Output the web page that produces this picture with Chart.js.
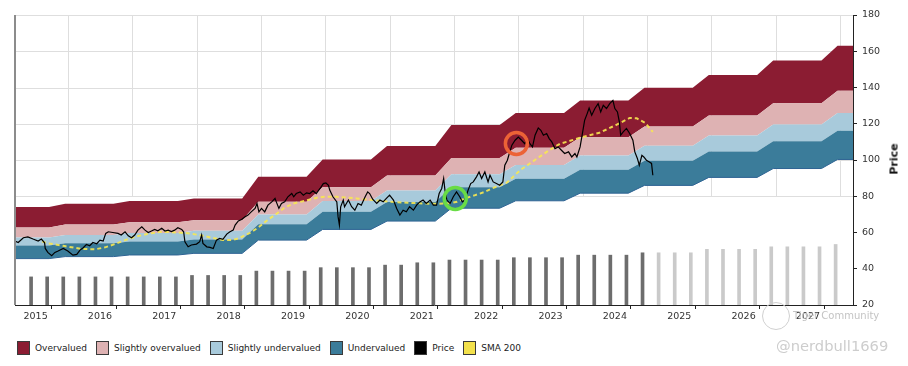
<!DOCTYPE html>
<html>
<head>
<meta charset="utf-8">
<title>Fair value bands</title>
<script src="https://cdn.jsdelivr.net/npm/chart.js"></script>
<style>
  html, body { margin: 0; padding: 0; background: #fff; }
  body { width: 908px; height: 366px; position: relative; overflow: hidden; font-family: 'DejaVu Sans', sans-serif; }
  #chart { position: absolute; left: 0; top: 0; }
  #yTitle { position: absolute; left: 894px; top: 159px; transform: translate(-50%, -50%) rotate(-90deg); font: bold 11px 'DejaVu Sans', sans-serif; color: #111; }
  #legend { position: absolute; left: 17px; top: 341px; display: flex; align-items: center; font-size: 9px; color: #222; }
  .item { display: flex; align-items: center; margin-right: 9px; }
  .sw { width: 11px; height: 12px; border: 1px solid #3a3a3a; margin-right: 5px; box-sizing: content-box; }
  #logo { position: absolute; left: 762px; top: 302px; width: 26px; height: 26px; border: 1px solid #d0d0d0; border-radius: 50%; }
  #tiger { position: absolute; left: 793px; top: 310px; font-size: 10px; color: #c4c4c4; }
  #handle { position: absolute; left: 776px; top: 337px; font-size: 14.7px; color: #cdcdcd; }
</style>
</head>
<body>
<canvas id="chart" width="908" height="330"></canvas>
<div id="yTitle">Price</div>
<div id="logo"></div>
<div id="tiger">Tiger Community</div>
<div id="handle">@nerdbull1669</div>
<div id="legend"></div>
<script>
// valuation band levels per year (lower edge of each zone)
const bandYears = [2015, 2016, 2017, 2018, 2019, 2020, 2021, 2022, 2023, 2024, 2025, 2026, 2027, 2028];
const undervaluedLow  = [45.6, 46.7, 47.6, 48.5, 55.8, 61.7, 66.3, 73.4, 77.5, 81.7, 86.0, 90.4, 95.3, 100.3];
const undervaluedHigh = [52.8, 54.1, 55.1, 56.2, 64.6, 71.4, 76.8, 85.0, 89.7, 94.6, 99.6, 104.7, 110.4, 116.1];
const fairValue       = [57.2, 58.6, 59.7, 60.9, 70.0, 77.4, 83.2, 92.1, 97.3, 102.5, 107.9, 113.5, 119.6, 125.9];
const overvaluedLow   = [62.8, 64.4, 65.6, 66.8, 76.9, 85.0, 91.4, 101.1, 106.8, 112.6, 118.5, 124.6, 131.3, 138.2];
const overvaluedHigh  = [74.1, 75.9, 77.4, 78.8, 90.7, 100.3, 107.7, 119.3, 125.9, 132.8, 139.8, 146.9, 154.9, 163.0];

// quarterly bars (reported, then forecast)
const barStart = 2015.43;
const barsReported = [35.5, 35.5, 35.5, 35.5, 35.5, 35.5, 35.5, 35.5, 35.5, 35.5,
  36.3, 36.3, 36.3, 36.3, 38.7, 38.7, 38.7, 38.7, 40.6, 40.6, 40.6, 40.6,
  42.0, 42.0, 43.3, 43.3, 44.8, 44.8, 44.8, 44.8, 46.1, 46.1, 46.1, 46.1,
  47.5, 47.5, 47.5, 47.5, 48.8];
const barsForecast = [48.8, 48.8, 48.8, 50.7, 50.7, 50.7, 50.7, 52.1, 52.1, 52.1, 52.1, 53.4];

// price [year, value]
const priceHistory = [
  [2015.18, 55.3], [2015.23, 54.5], [2015.31, 57.1], [2015.38, 57.6], [2015.46, 56.4], [2015.54, 55.3],
  [2015.59, 56.4], [2015.64, 54.3], [2015.65, 51.2], [2015.69, 49.0], [2015.75, 47.2], [2015.80, 49.0],
  [2015.85, 49.8], [2015.93, 51.2], [2016.00, 49.8], [2016.08, 47.5], [2016.14, 47.9], [2016.19, 50.3],
  [2016.24, 51.6], [2016.29, 53.4], [2016.34, 52.7], [2016.39, 54.5], [2016.45, 53.8], [2016.50, 55.8],
  [2016.55, 55.3], [2016.59, 59.5], [2016.63, 60.4], [2016.70, 60.0], [2016.78, 59.5], [2016.83, 58.6],
  [2016.89, 60.4], [2016.94, 58.2], [2016.99, 57.1], [2017.04, 58.6], [2017.09, 61.3], [2017.15, 63.1],
  [2017.20, 61.3], [2017.25, 60.0], [2017.30, 60.8], [2017.35, 61.7], [2017.40, 60.9], [2017.46, 62.3],
  [2017.51, 60.8], [2017.56, 61.3], [2017.61, 60.5], [2017.66, 61.3], [2017.71, 62.6], [2017.77, 61.7],
  [2017.80, 60.4], [2017.82, 54.9], [2017.87, 52.1], [2017.92, 53.1], [2018.00, 53.6], [2018.05, 54.9],
  [2018.08, 58.6], [2018.10, 54.0], [2018.16, 52.1], [2018.21, 51.8], [2018.26, 51.2], [2018.31, 55.8],
  [2018.36, 56.7], [2018.41, 56.2], [2018.47, 59.1], [2018.52, 60.4], [2018.57, 61.3], [2018.60, 64.1],
  [2018.65, 66.4], [2018.70, 67.2], [2018.75, 68.6], [2018.80, 69.6], [2018.85, 71.4], [2018.91, 73.3],
  [2018.94, 76.0], [2018.97, 71.4], [2019.01, 73.3], [2019.06, 71.4], [2019.11, 75.1], [2019.17, 76.9],
  [2019.22, 78.8], [2019.24, 76.9], [2019.28, 73.3], [2019.32, 76.0], [2019.37, 76.9], [2019.42, 79.7],
  [2019.48, 81.5], [2019.51, 79.7], [2019.55, 81.5], [2019.61, 82.4], [2019.66, 80.6], [2019.71, 81.9],
  [2019.76, 81.5], [2019.81, 83.0], [2019.86, 81.5], [2019.92, 84.3], [2019.97, 87.0], [2020.01, 87.4],
  [2020.05, 86.0], [2020.07, 83.4], [2020.12, 79.7], [2020.18, 76.9], [2020.20, 68.6], [2020.22, 64.1],
  [2020.24, 74.2], [2020.28, 77.9], [2020.30, 74.2], [2020.36, 77.9], [2020.41, 74.2], [2020.46, 72.3],
  [2020.51, 76.0], [2020.56, 75.1], [2020.62, 79.7], [2020.66, 82.4], [2020.69, 81.5], [2020.74, 78.2],
  [2020.80, 76.0], [2020.85, 77.9], [2020.90, 76.9], [2020.95, 78.8], [2021.00, 80.6], [2021.06, 77.9],
  [2021.11, 73.3], [2021.16, 69.6], [2021.21, 72.3], [2021.26, 71.4], [2021.31, 74.2], [2021.37, 72.3],
  [2021.42, 75.1], [2021.47, 76.9], [2021.52, 77.9], [2021.57, 76.0], [2021.63, 77.9], [2021.68, 75.1],
  [2021.73, 75.1], [2021.77, 81.5], [2021.81, 84.3], [2021.84, 89.8], [2021.86, 83.4], [2021.89, 77.9],
  [2021.94, 76.0], [2021.99, 79.7], [2022.04, 82.4], [2022.09, 79.7], [2022.13, 76.9], [2022.17, 77.9],
  [2022.22, 83.4], [2022.26, 87.0], [2022.30, 87.9], [2022.35, 90.7], [2022.39, 93.4], [2022.43, 89.8],
  [2022.48, 93.4], [2022.53, 87.9], [2022.56, 91.6], [2022.61, 87.9], [2022.66, 87.0], [2022.71, 86.1],
  [2022.76, 87.9], [2022.79, 97.1], [2022.83, 99.9], [2022.86, 103.6], [2022.90, 108.2], [2022.95, 110.9],
  [2023.00, 112.7], [2023.05, 110.9], [2023.10, 109.0], [2023.14, 111.8], [2023.18, 109.0], [2023.22, 107.2],
  [2023.26, 113.7], [2023.31, 117.7], [2023.35, 116.4], [2023.39, 113.7], [2023.44, 114.6], [2023.48, 111.8],
  [2023.52, 110.0], [2023.57, 106.3], [2023.62, 107.2], [2023.67, 105.4], [2023.72, 103.6], [2023.78, 104.5],
  [2023.83, 101.7], [2023.88, 103.6], [2023.91, 101.7], [2023.96, 107.2], [2024.00, 115.5], [2024.03, 121.9],
  [2024.07, 125.6], [2024.10, 128.7], [2024.14, 124.7], [2024.19, 128.4], [2024.24, 131.1], [2024.28, 126.5],
  [2024.32, 130.2], [2024.37, 128.4], [2024.42, 131.1], [2024.47, 132.9], [2024.50, 128.4], [2024.54, 126.5],
  [2024.57, 121.0], [2024.59, 113.7], [2024.63, 115.5], [2024.68, 117.4], [2024.73, 114.6], [2024.78, 110.9],
  [2024.81, 104.5], [2024.85, 100.8], [2024.88, 97.1], [2024.92, 102.6], [2024.95, 101.7], [2024.99, 99.9],
  [2025.03, 99.0], [2025.07, 98.1], [2025.09, 91.6]
];

// 200 day moving average [year, value]
const sma200 = [
  [2015.60, 55.0], [2015.70, 54.0], [2015.95, 52.5], [2016.20, 51.0], [2016.42, 50.7], [2016.58, 51.8],
  [2016.73, 53.6], [2016.89, 55.8], [2017.04, 57.6], [2017.25, 59.3], [2017.46, 60.4], [2017.62, 60.2],
  [2017.90, 59.5], [2018.10, 58.2], [2018.25, 57.0], [2018.41, 55.9], [2018.56, 55.8], [2018.67, 57.0],
  [2018.83, 59.8], [2018.95, 62.5], [2019.09, 66.5], [2019.25, 70.5], [2019.37, 73.8], [2019.51, 76.0],
  [2019.68, 77.5], [2019.87, 79.2], [2019.99, 79.7], [2020.18, 79.7], [2020.49, 78.8], [2020.74, 77.9],
  [2021.03, 76.9], [2021.28, 76.4], [2021.55, 76.0], [2021.73, 75.8], [2021.94, 76.2], [2022.05, 77.0],
  [2022.17, 78.8], [2022.32, 80.5], [2022.48, 82.4], [2022.59, 84.3], [2022.82, 87.5], [2023.03, 94.4],
  [2023.29, 100.8], [2023.49, 105.6], [2023.65, 109.0], [2023.75, 110.0], [2024.00, 112.7], [2024.26, 115.0],
  [2024.53, 119.5], [2024.73, 123.2], [2024.84, 123.0], [2024.97, 120.5], [2025.09, 115.5]
];

// marked signals
const buySignal = [[2022.02, 78.8]];
const sellSignal = [[2022.97, 109.1]];

const xMin = 2015.18, xMax = 2028.2;
const tickYears = [2016, 2017, 2018, 2019, 2020, 2021, 2022, 2023, 2024, 2025, 2026, 2027, 2028];
const labelYears = [2015, 2016, 2017, 2018, 2019, 2020, 2021, 2022, 2023, 2024, 2025, 2026, 2027];
const gridFloor = 80; // grid only drawn in the price pane

const COLORS = {
  over: '#8b1c32',
  slOver: '#deb2b3',
  slUnder: '#a8cadb',
  under: '#3b7c9a',
  price: '#000000',
  sma: '#f3e14c',
  grid: '#dedede'
};

// each band level is flat during the year and steps up in the last quarter
function bandPoints(levels) {
  const pts = [];
  bandYears.forEach((yr, i) => {
    pts.push({ x: yr - 0.04, y: levels[i] });
    pts.push({ x: yr + 0.71, y: levels[i] });
  });
  return pts;
}

const toXY = arr => arr.map(p => ({ x: p[0], y: p[1] }));

function bandSet(levels, color, fill) {
  return {
    type: 'line',
    data: bandPoints(levels),
    borderWidth: 0,
    borderColor: 'rgba(0,0,0,0)',
    backgroundColor: color,
    fill: fill,
    pointRadius: 0,
    tension: 0,
    order: 10
  };
}

const bottomEdge = bandSet(undervaluedLow, 'rgba(0,0,0,0)', false);
bottomEdge.borderWidth = 1;
bottomEdge.borderColor = '#2f6494';

// grid lines only in the upper pane, gray rule on the left edge
const paneGrid = {
  id: 'paneGrid',
  beforeDatasetsDraw(chart) {
    const { ctx, chartArea, scales } = chart;
    const floorY = scales.y.getPixelForValue(gridFloor);
    ctx.save();
    ctx.strokeStyle = COLORS.grid;
    ctx.lineWidth = 1;
    ctx.beginPath();
    scales.x.ticks.forEach(t => {
      if (!Number.isInteger(t.value)) return;
      const px = Math.round(scales.x.getPixelForValue(t.value)) + 0.5;
      ctx.moveTo(px, chartArea.top);
      ctx.lineTo(px, floorY);
    });
    scales.y.ticks.forEach(t => {
      if (t.value < gridFloor) return;
      const py = Math.round(scales.y.getPixelForValue(t.value)) + 0.5;
      ctx.moveTo(chartArea.left, py);
      ctx.lineTo(chartArea.right, py);
    });
    ctx.stroke();
    ctx.restore();
  },
  afterDatasetsDraw(chart) {
    const { ctx, chartArea } = chart;
    ctx.save();
    ctx.strokeStyle = '#8c8c8c';
    ctx.lineWidth = 2;
    ctx.beginPath();
    ctx.moveTo(chartArea.left, chartArea.top);
    ctx.lineTo(chartArea.left, chartArea.bottom);
    ctx.stroke();
    ctx.restore();
  }
};

new Chart(document.getElementById('chart'), {
  type: 'line',
  data: {
    datasets: [
      bottomEdge,
      bandSet(undervaluedHigh, COLORS.under, '-1'),
      bandSet(fairValue, COLORS.slUnder, '-1'),
      bandSet(overvaluedLow, COLORS.slOver, '-1'),
      bandSet(overvaluedHigh, COLORS.over, '-1'),
      {
        type: 'bar',
        data: barsReported.map((v, i) => ({ x: barStart + i * 0.25, y: v })),
        backgroundColor: '#6d6d6d',
        barThickness: 3,
        grouped: false,
        order: 6
      },
      {
        type: 'bar',
        data: barsForecast.map((v, i) => ({ x: barStart + (barsReported.length + i) * 0.25, y: v })),
        backgroundColor: '#cacaca',
        barThickness: 3,
        grouped: false,
        order: 6
      },
      {
        data: toXY(sma200),
        borderColor: 'rgba(248,232,80,0.9)',
        borderWidth: 2,
        borderDash: [4, 3],
        pointRadius: 0,
        fill: false,
        order: 3
      },
      {
        data: toXY(priceHistory),
        borderColor: COLORS.price,
        borderWidth: 1.2,
        pointRadius: 0,
        fill: false,
        tension: 0,
        order: 2
      },
      {
        data: toXY(buySignal),
        showLine: false,
        pointRadius: 11,
        pointBorderWidth: 3.5,
        pointBorderColor: '#68dc45',
        pointBackgroundColor: 'rgba(0,0,0,0)',
        order: 1
      },
      {
        data: toXY(sellSignal),
        showLine: false,
        pointRadius: 11,
        pointBorderWidth: 3.5,
        pointBorderColor: '#ec6236',
        pointBackgroundColor: 'rgba(0,0,0,0)',
        order: 1
      }
    ]
  },
  options: {
    responsive: false,
    animation: false,
    events: [],
    layout: { padding: { left: 15, top: 15, right: 0, bottom: 0 } },
    plugins: {
      legend: { display: false },
      tooltip: { enabled: false }
    },
    scales: {
      x: {
        type: 'linear',
        min: xMin,
        max: xMax,
        offset: false,
        afterBuildTicks(scale) {
          const ticks = tickYears.map(v => ({ value: v }))
            .concat(labelYears.map(v => ({ value: v + 0.5 })));
          scale.ticks = ticks.filter(t => t.value >= xMin && t.value <= xMax)
            .sort((a, b) => a.value - b.value);
        },
        afterFit(scale) { scale.height = 25; },
        ticks: {
          autoSkip: false,
          maxRotation: 0,
          padding: 2,
          color: '#333',
          font: { family: 'DejaVu Sans', size: 9.5 },
          callback: v => Number.isInteger(v) ? '' : String(Math.floor(v))
        },
        grid: {
          drawOnChartArea: false,
          tickColor: c => Number.isInteger(c.tick && c.tick.value) ? '#222' : 'rgba(0,0,0,0)',
          tickLength: 4
        },
        border: { color: '#222', width: 1 }
      },
      y: {
        position: 'right',
        min: 20,
        max: 180,
        afterFit(scale) { scale.width = 55; },
        ticks: {
          stepSize: 20,
          padding: 5,
          color: '#333',
          font: { family: 'DejaVu Sans', size: 9.5 }
        },
        grid: { drawOnChartArea: false, tickColor: '#222', tickLength: 4 },
        border: { color: '#222', width: 1 }
      }
    }
  },
  plugins: [paneGrid]
});

// legend
const legendItems = [
  ['Overvalued', COLORS.over],
  ['Slightly overvalued', COLORS.slOver],
  ['Slightly undervalued', COLORS.slUnder],
  ['Undervalued', COLORS.under],
  ['Price', COLORS.price],
  ['SMA 200', COLORS.sma]
];
const legend = document.getElementById('legend');
legendItems.forEach(([label, color]) => {
  const item = document.createElement('div');
  item.className = 'item';
  item.innerHTML = '<span class="sw" style="background:' + color + '"></span><span>' + label + '</span>';
  legend.appendChild(item);
});
</script>
</body>
</html>
